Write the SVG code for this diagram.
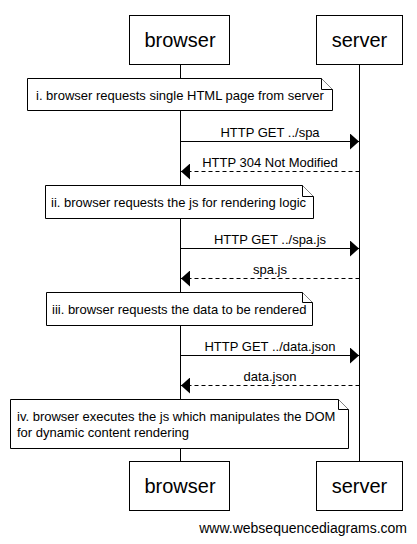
<svg xmlns="http://www.w3.org/2000/svg" width="417" height="544" viewBox="0 0 417 544">
<style>
  .box{fill:#fff;stroke:#000;stroke-width:1}
  .ll{stroke:#000;stroke-width:1}
  .pt{font-family:"Liberation Sans",Arial,sans-serif;font-size:20px;fill:#000;text-anchor:middle}
  .t{font-family:"Liberation Sans",Arial,sans-serif;font-size:13px;fill:#000}
  .m{text-anchor:middle}
  .msg{stroke:#000;stroke-width:1;fill:none}
  .dash{stroke-dasharray:4,3}
  .note{fill:#fff;stroke:#000;stroke-width:1}
</style>
<defs>
  <marker id="ah" markerWidth="10" markerHeight="16" refX="9" refY="8" orient="auto" markerUnits="userSpaceOnUse">
    <path d="M0,0 L9,8 L0,16 Z" fill="#000"/>
  </marker>
</defs>
<rect width="417" height="544" fill="#fff"/>
<g id="lifelines">
  <line class="ll" x1="180.5" y1="64" x2="180.5" y2="461"/>
  <line class="ll" x1="359.5" y1="64" x2="359.5" y2="461"/>
</g>
<g id="browser-top"><rect class="box" x="129.5" y="15.5" width="100" height="49"/><text class="pt" x="180" y="47">browser</text></g>
<g id="server-top"><rect class="box" x="316.5" y="15.5" width="86" height="49"/><text class="pt" x="359.5" y="47">server</text></g>
<g id="browser-bottom"><rect class="box" x="129.5" y="461.5" width="100" height="49"/><text class="pt" x="180" y="493">browser</text></g>
<g id="server-bottom"><rect class="box" x="316.5" y="461.5" width="86" height="49"/><text class="pt" x="359.5" y="493">server</text></g>
<g id="connectors">
  <line class="msg" x1="180.5" y1="141.5" x2="359" y2="141.5" marker-end="url(#ah)"/>
  <text class="t m" x="270" y="137">HTTP GET ../spa</text>
  <line class="msg dash" x1="359.5" y1="171.5" x2="181" y2="171.5" marker-end="url(#ah)"/>
  <text class="t m" x="270" y="167">HTTP 304 Not Modified</text>
  <line class="msg" x1="180.5" y1="248.5" x2="359" y2="248.5" marker-end="url(#ah)"/>
  <text class="t m" x="270" y="244">HTTP GET ../spa.js</text>
  <line class="msg dash" x1="359.5" y1="278.5" x2="181" y2="278.5" marker-end="url(#ah)"/>
  <text class="t m" x="270" y="274">spa.js</text>
  <line class="msg" x1="180.5" y1="355.5" x2="359" y2="355.5" marker-end="url(#ah)"/>
  <text class="t m" x="270" y="351">HTTP GET ../data.json</text>
  <line class="msg dash" x1="359.5" y1="385.5" x2="181" y2="385.5" marker-end="url(#ah)"/>
  <text class="t m" x="270" y="381">data.json</text>
</g>
<g id="note1">
  <path class="note" d="M27.5,78.5 H321.5 L332.5,89.5 V110.5 H27.5 Z"/>
  <path class="note" d="M321.5,78.5 V89.5 H332.5"/>
  <text class="t" x="36" y="100">i. browser requests single HTML page from server</text>
</g>
<g id="note2">
  <path class="note" d="M45.5,185.5 H302.5 L313.5,196.5 V218.5 H45.5 Z"/>
  <path class="note" d="M302.5,185.5 V196.5 H313.5"/>
  <text class="t" x="51" y="207">ii. browser requests the js for rendering logic</text>
</g>
<g id="note3">
  <path class="note" d="M46.5,292.5 H302.5 L312.5,302.5 V325.5 H46.5 Z"/>
  <path class="note" d="M302.5,292.5 V302.5 H312.5"/>
  <text class="t" x="52" y="314">iii. browser requests the data to be rendered</text>
</g>
<g id="note4">
  <path class="note" d="M10.5,399.5 H338.5 L348.5,409.5 V448.5 H10.5 Z"/>
  <path class="note" d="M338.5,399.5 V409.5 H348.5"/>
  <text class="t" x="17" y="421">iv. browser executes the js which manipulates the DOM</text>
  <text class="t" x="17" y="437">for dynamic content rendering</text>
</g>
<text x="407" y="533" text-anchor="end" font-family="'Liberation Sans',Arial,sans-serif" font-size="14" fill="#000">www.websequencediagrams.com</text>
</svg>
